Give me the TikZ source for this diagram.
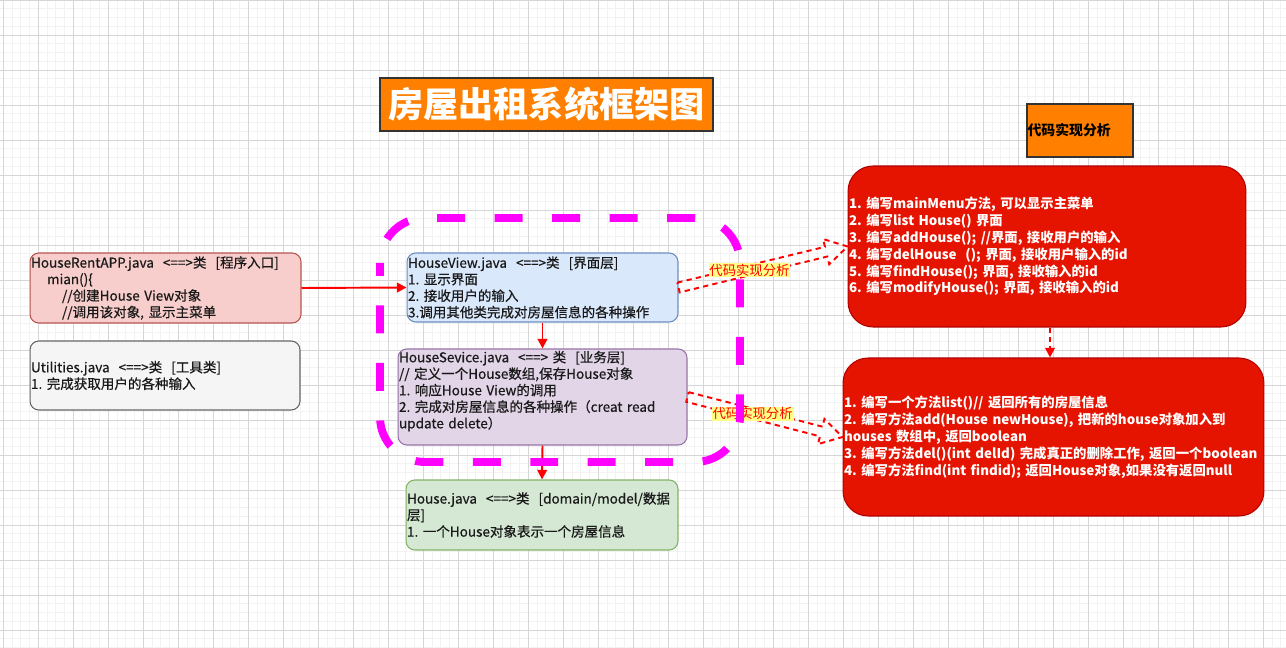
\documentclass[tikz,border=0pt]{standalone}
\usepackage{fontspec}
\setmainfont{Noto Sans CJK SC}
\newfontfamily\boxfont{Noto Sans CJK SC}[FakeBold=0.5]
\frenchspacing
\usepackage{tikz}
\usetikzlibrary{arrows.meta, calc}
\definecolor{gridmajor}{HTML}{D6D6D6}
\definecolor{gridminor}{HTML}{F2F2F2}
\definecolor{appfill}{HTML}{F8CECC}
\definecolor{appline}{HTML}{B85450}
\definecolor{utilfill}{HTML}{F5F5F5}
\definecolor{utilline}{HTML}{666666}
\definecolor{viewfill}{HTML}{DAE8FC}
\definecolor{viewline}{HTML}{6C8EBF}
\definecolor{servfill}{HTML}{E1D5E7}
\definecolor{servline}{HTML}{9673A6}
\definecolor{housefill}{HTML}{D5E8D4}
\definecolor{houseline}{HTML}{82B366}
\definecolor{taskfill}{HTML}{E51400}
\definecolor{taskline}{HTML}{B20000}
\definecolor{orangefill}{HTML}{FF8000}
\definecolor{notefill}{HTML}{FFFF88}
\definecolor{layerpink}{HTML}{FF00FF}
\tikzstyle{cls}   = [draw, rounded corners=5pt, line width=0.6pt, align=left, inner xsep=0.5pt, inner ysep=0pt, text=black!90, font=\boxfont\fontsize{7.7}{9.4}\selectfont]
\tikzstyle{task}  = [draw=taskline, fill=taskfill, rounded corners=0.5cm, line width=0.6pt, align=left, inner xsep=0.5pt, inner ysep=0pt, text=white, font=\bfseries\fontsize{7.6}{9.6}\selectfont]
\tikzstyle{head}  = [draw=black!80, fill=orangefill, line width=0.7pt, inner sep=0pt]
\tikzstyle{flow}  = [draw=red, line width=1.1pt, -{Triangle[length=5.5pt, width=5.5pt]}]
\tikzstyle{fat}   = [draw=red, line width=1.1pt, dash pattern=on 3pt off 2.4pt, line join=miter]
\tikzstyle{note}  = [fill=notefill, text=red, inner sep=0.5pt, font=\fontsize{7.6}{9}\selectfont]
\tikzstyle{frame} = [draw=layerpink, line width=4.5pt, rounded corners=0.9cm, dash pattern=on 0.56cm off 0.59cm, dash phase=0.3cm]

% hollow block arrow from #1 to #2
\newcommand{\fatarrow}[2]{%
  \coordinate (fa-h) at ($(#2)!0.44cm!(#1)$);
  \draw[fat] ($(#1)!0.1cm!90:(#2)$) -- ($(fa-h)!0.1cm!-90:(#1)$) -- ($(fa-h)!0.26cm!-90:(#1)$)
    -- (#2) -- ($(fa-h)!0.26cm!90:(#1)$) -- ($(fa-h)!0.1cm!90:(#1)$) -- ($(#1)!0.1cm!-90:(#2)$) -- cycle;
}

\begin{document}
\begin{tikzpicture}[x=0.02cm, y=-0.02cm]

\useasboundingbox (0,0) rectangle (1286,648);
\fill[white] (0,0) rectangle (1286,648);

% grid
\foreach \i in {0,...,147} \draw[gridminor, line width=0.4pt] ({3.3+\i*8.75},0) -- ++(0,648);
\foreach \i in {0,...,74}  \draw[gridminor, line width=0.4pt] (0,{\i*8.75}) -- ++(1286,0);
\foreach \i in {0,...,36}  \draw[gridmajor, line width=0.5pt] ({3.3+\i*35},0) -- ++(0,648);
\foreach \i in {0,...,18}  \draw[gridmajor, line width=0.5pt] (0,{\i*35}) -- ++(1286,0);

% nodes
\node [head, minimum width=6.66cm, minimum height=1.06cm, text=white, font=\bfseries\fontsize{20}{22}\selectfont]
      at (546.5,104.5) (title) {房屋出租系统框架图};
\node [head, minimum width=2.12cm, minimum height=1.06cm, text width=2.1cm, align=left, font=\bfseries\fontsize{7.9}{9}\selectfont]
      at (1080,130.5) (codehead) {代码实现分析};

\node [cls, fill=appfill, draw=appline, minimum width=5.42cm, text width=5.38cm, minimum height=1.4cm]
      at (165.5,288) (app)
      {HouseRentAPP.java\ \ <==>类\ \ [程序入口]\\
       \hspace*{0.32cm}mian()\{\\
       \hspace*{0.62cm}//创建House View对象\\
       \hspace*{0.62cm}//调用该对象, 显示主菜单};
\node [cls, fill=utilfill, draw=utilline, minimum width=5.4cm, text width=5.36cm, minimum height=1.38cm]
      at (165,375.5) (util)
      {Utilities.java\ \ <==>类\ \ [工具类]\\
       1. 完成获取用户的各种输入};
\node [cls, fill=viewfill, draw=viewline, minimum width=5.42cm, text width=5.38cm, minimum height=1.38cm]
      at (542.5,287.5) (view)
      {HouseView.java\ \ <==>类\ \ [界面层]\\
       1. 显示界面\\
       2. 接收用户的输入\\
       3.调用其他类完成对房屋信息的各种操作};
\node [cls, fill=servfill, draw=servline, minimum width=5.78cm, text width=5.74cm, minimum height=1.92cm]
      at (542.5,397) (service)
      {HouseSevice.java\ \ <==> 类\ \ [业务层]\\
       // 定义一个House数组,保存House对象\\
       1. 响应House View的调用\\
       2. 完成对房屋信息的各种操作（creat read\\
       update delete）\\[-1pt]\mbox{}};
\node [cls, fill=housefill, draw=houseline, minimum width=5.44cm, text width=5.4cm, minimum height=1.4cm]
      at (542,515) (house)
      {House.java\ \ <==>类\ \ [domain/model/数据\\
       层]\\
       1. 一个House对象表示一个房屋信息};

\node [task, minimum width=7.96cm, text width=7.92cm, minimum height=3.22cm]
      at (1047,246.5) (viewtask)
      {1. 编写mainMenu方法, 可以显示主菜单\\
       2. 编写list House() 界面\\
       3. 编写addHouse(); //界面, 接收用户的输入\\
       4. 编写delHouse\ \ (); 界面, 接收用户输入的id\\
       5. 编写findHouse(); 界面, 接收输入的id\\
       6. 编写modifyHouse(); 界面, 接收输入的id};
\node [task, minimum width=8.42cm, text width=8.38cm, minimum height=3.16cm]
      at (1053.5,437) (servtask)
      {1. 编写一个方法list()// 返回所有的房屋信息\\
       2. 编写方法add(House newHouse), 把新的house对象加入到\\
       houses 数组中, 返回boolean\\
       3. 编写方法del()(int delId) 完成真正的删除工作, 返回一个boolean\\
       4. 编写方法find(int findid); 返回House对象,如果没有返回null};

% edges
\path [flow] (app.east) -- (view.west);
\path [flow] (view.south) -- (service.north);
\path [flow] (service.south) -- (house.north);
\path [flow, dash pattern=on 3pt off 2.4pt] ($(viewtask.south)+(3,0)$) -- ($(servtask.north)+(-3.5,0)$);

\fatarrow{view.east}{viewtask.west}
\fatarrow{service.east}{servtask.west}
\node [note] at ($(view.east)!0.42!(viewtask.west)$) (note1) {代码实现分析};
\node [note] at ($(service.east)!0.42!(servtask.west)$) (note2) {代码实现分析};

% layer frame
\draw [frame] (380,218) rectangle (740,462);

\end{tikzpicture}
\end{document}
